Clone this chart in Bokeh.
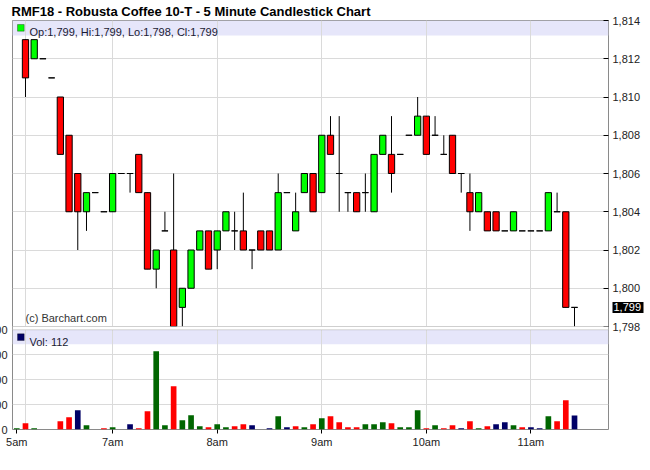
import math
from bokeh.plotting import figure
from bokeh.models import (Range1d, FixedTicker, NumeralTickFormatter, Label, Grid, Title,
                          BoxAnnotation, ColumnDataSource, LinearAxis)
from bokeh.embed import file_html
from bokeh.resources import INLINE

NaN = float("nan")

# ---------------- data (5-minute bars, index -1 .. 63) ----------------
bar_index = list(range(-1, 64))
opens = [NaN, 1813, 1812, 1812, 1811, 1810, 1808, 1806, 1804, 1805, 1804,
         1804, 1806, 1806, 1807, 1805, 1801, 1803, 1802, 1799, 1800,
         1802, 1803, 1802, 1803, 1803, 1803, 1802, 1803, 1803, 1802,
         1805, 1803, 1805, 1806, 1805, 1808, 1806, 1805, 1805, 1805,
         1804, 1807, 1807, 1807, 1808, 1808, 1809, 1808, 1807, 1808,
         1806, 1805, 1804, 1804, 1804, 1803, 1803, 1803, 1803, 1803,
         1803, 1804, 1804, 1799]
highs = [NaN, 1813, 1813, 1812, 1811, 1810, 1808, 1806, 1805, 1805, 1804,
         1806, 1806, 1806, 1807, 1805, 1802, 1804, 1806, 1800, 1802,
         1803, 1803, 1803, 1804, 1804, 1805, 1802, 1803, 1803, 1806,
         1805, 1805, 1806, 1806, 1808, 1809, 1809, 1805, 1805, 1806,
         1807, 1808, 1809, 1807, 1808, 1810, 1809, 1809, 1808, 1808,
         1806, 1806, 1805, 1804, 1804, 1803, 1804, 1803, 1803, 1803,
         1805, 1805, 1804, 1799]
lows = [NaN, 1810, 1812, 1812, 1811, 1807, 1804, 1802, 1803, 1805, 1804,
        1804, 1806, 1805, 1805, 1801, 1800, 1803, 1798, 1798, 1800,
        1802, 1801, 1801, 1803, 1802, 1802, 1801, 1802, 1802, 1802,
        1805, 1803, 1805, 1804, 1805, 1807, 1804, 1804, 1804, 1804,
        1804, 1807, 1805, 1807, 1808, 1808, 1807, 1808, 1807, 1806,
        1805, 1803, 1804, 1803, 1803, 1803, 1803, 1803, 1803, 1803,
        1803, 1804, 1799, 1798]
closes = [NaN, 1811, 1813, 1812, 1811, 1807, 1804, 1804, 1805, 1805, 1804,
          1806, 1806, 1806, 1805, 1801, 1802, 1803, 1798, 1800, 1802,
          1803, 1801, 1803, 1804, 1803, 1802, 1802, 1802, 1802, 1805,
          1805, 1804, 1806, 1804, 1808, 1807, 1806, 1805, 1804, 1805,
          1807, 1808, 1806, 1807, 1808, 1809, 1807, 1808, 1807, 1806,
          1806, 1804, 1805, 1803, 1803, 1803, 1804, 1803, 1803, 1803,
          1805, 1804, 1799, 1799]
volumes = [11, 51, 11, 1, 1, 67, 99, 155, 35, 1, 11,
           19, 1, 43, 11, 147, 627, 35, 347, 75, 115,
           27, 19, 43, 19, 27, 43, 35, 1, 11, 107,
           19, 27, 19, 43, 91, 107, 59, 19, 19, 43,
           43, 59, 51, 19, 19, 155, 11, 35, 11, 35,
           11, 67, 11, 27, 43, 59, 35, 19, 19, 11,
           107, 67, 235, 112]

hour_tick_pos = [-1, 10, 22, 34, 46, 58]
hour_tick_labels = ["5am", "7am", "8am", "9am", "10am", "11am"]
hour_grid_pos = [0, 10, 22, 34, 46, 58]
price_ticks = [1798, 1800, 1802, 1804, 1806, 1808, 1810, 1812, 1814]
volume_ticks = [0, 200, 400, 600, 800]

TITLE = "RMF18 - Robusta Coffee 10-T - 5 Minute Candlestick Chart"
FONT = "Liberation Sans"

# ---------------- derived styling ----------------
UP, DOWN, FLAT = "#00ff00", "#ff0000", "#ffffff"
VUP, VDOWN, VFLAT = "#006600", "#ff0000", "#000066"

body_top, body_bot, body_col = [], [], []
for o, c in zip(opens, closes):
    body_top.append(max(o, c) if not math.isnan(o) else NaN)
    body_bot.append(min(o, c) if not math.isnan(o) else NaN)
    body_col.append(UP if c > o else (DOWN if c < o else FLAT))

vol_col = []
prev = NaN
for o, c in zip(opens, closes):
    if math.isnan(c):
        vol_col.append(VUP)
        continue
    ref = prev if not math.isnan(prev) else o
    vol_col.append(VUP if c > ref else (VDOWN if c < ref else VFLAT))
    prev = c

BW = 0.72
src = ColumnDataSource(dict(
    x=bar_index, o=opens, h=highs, l=lows, c=closes,
    left=[i - BW / 2 for i in bar_index], right=[i + BW / 2 for i in bar_index],
    top=body_top, bottom=body_bot, bcol=body_col, vol=volumes, vcol=vol_col))

# ---------------- geometry of the two stacked panels in one frame ----------------
FW, FH = 596, 409
PRICE_H, GAP_H, VOL_H = 306, 3.3, 99.7
X0, X1 = -1.49, 66.9
P_LO, P_HI = price_ticks[0], price_ticks[-1]
ppu = PRICE_H / (P_HI - P_LO)
y_start = P_HI - FH / ppu
vpu = VOL_H / volume_ticks[-1]
v_end = FH / vpu
xpu = FW / (X1 - X0)

def px_x(px):
    return X0 + px / xpu

def px_p(px):
    return P_HI - px / ppu

def px_v(px):
    return volume_ticks[-1] - px / vpu

GRID = "#dadada"
OUTLINE = "#8a8a8a"
BAND = "#e6e6fa"
TXT = "#222222"
HDR = "#1a1a33"

ttl = Title(text=TITLE, align="left", offset=-1, standoff=0, vertical_align="top",
            text_font=FONT, text_font_size="13px", text_font_style="bold",
            text_color="black")

p = figure(frame_width=FW, frame_height=FH, x_range=Range1d(X0, X1),
           y_range=Range1d(y_start, P_HI), output_backend="svg", toolbar_location=None,
           x_axis_location="below", y_axis_location="right", title=ttl,
           min_border_left=12, min_border_right=34, min_border_top=20, min_border_bottom=20)
p.extra_y_ranges = {"vol": Range1d(0, v_end)}
p.background_fill_color = "white"
p.border_fill_color = "white"
p.outline_line_color = OUTLINE
p.outline_line_width = 1

ax = p.yaxis[0]
ax.ticker = FixedTicker(ticks=price_ticks)
ax.formatter = NumeralTickFormatter(format="0,0")
ax.major_tick_in = 5
ax.major_tick_out = 0
ax.minor_tick_line_color = None
ax.axis_line_color = None
ax.major_tick_line_color = "black"
ax.major_label_standoff = 4
ax.major_label_text_font = FONT
ax.major_label_text_font_size = "11px"
ax.major_label_text_color = TXT

# last-price marker: a second right axis with one tick at the last close; its thick
# inward tick forms the black box and its label is pulled back over the price scale
last = len(bar_index) - 1
mk = LinearAxis(ticker=FixedTicker(ticks=[closes[last]]),
                formatter=NumeralTickFormatter(format="0,0"),
                axis_line_color=None, minor_tick_line_color=None,
                major_tick_in=31, major_tick_out=0, major_tick_line_color="black",
                major_tick_line_width=11, major_label_standoff=-30,
                major_label_text_font=FONT, major_label_text_font_size="11px",
                major_label_text_color="white")
p.add_layout(mk, "right")

xa = p.xaxis[0]
xa.ticker = FixedTicker(ticks=hour_tick_pos)
xa.major_label_overrides = {t: s for t, s in zip(hour_tick_pos, hour_tick_labels)}
xa.major_tick_in = 0
xa.major_tick_out = 4
xa.minor_tick_line_color = None
xa.axis_line_color = None
xa.major_tick_line_color = "black"
xa.major_label_standoff = 2
xa.major_label_text_font = FONT
xa.major_label_text_font_size = "11px"
xa.major_label_text_color = TXT

# volume scale on the left: as in the original it runs off the page edge
vax = LinearAxis(y_range_name="vol", ticker=FixedTicker(ticks=volume_ticks),
                 axis_line_color=None, major_tick_line_color=None,
                 minor_tick_line_color=None, major_tick_in=0, major_tick_out=0,
                 major_label_standoff=5, major_label_text_font=FONT,
                 major_label_text_font_size="11px", major_label_text_color=TXT,
                 axis_label=" ", axis_label_standoff=-36)
p.add_layout(vax, "left")

p.xgrid.ticker = FixedTicker(ticks=hour_grid_pos)
p.ygrid.ticker = FixedTicker(ticks=price_ticks)
vgrid = Grid(dimension=1, ticker=FixedTicker(ticks=volume_ticks), y_range_name="vol")
p.add_layout(vgrid)
for g in (p.xgrid, p.ygrid, vgrid):
    g.grid_line_color = GRID
    g.grid_line_width = 1

p.add_layout(BoxAnnotation(top=P_HI, bottom=px_p(15), fill_color=BAND, fill_alpha=1,
                           line_color=None, level="image"))
p.add_layout(BoxAnnotation(top=volume_ticks[-1], bottom=px_v(14.5), y_range_name="vol",
                           fill_color=BAND, fill_alpha=1, line_color=None, level="image"))

p.segment(x0="x", y0="l", x1="x", y1="h", source=src, line_color="black", line_width=1)
p.quad(left="left", right="right", top="top", bottom="bottom", source=src,
       fill_color="bcol", line_color="black", line_width=1)

p.vbar(x="x", top="vol", width=0.65, source=src, fill_color="vcol", line_color=None,
       y_range_name="vol")

p.add_layout(BoxAnnotation(top=P_LO, bottom=px_p(PRICE_H + GAP_H), fill_color="white",
                           fill_alpha=1, line_color=OUTLINE, line_width=1, level="annotation"))

hdr = "Op:{:,}, Hi:{:,}, Lo:{:,}, Cl:{:,}".format(int(opens[last]), int(highs[last]),
                                                  int(lows[last]), int(closes[last]))
p.add_layout(BoxAnnotation(left=px_x(5), right=px_x(11.7), top=px_p(4), bottom=px_p(10.7),
                           fill_color=UP, fill_alpha=1, line_color="black", line_width=1,
                           level="annotation"))
p.add_layout(Label(x=17, y=FH - 11.5, x_units="screen", y_units="screen", text=hdr,
                   text_font=FONT, text_font_size="11px", text_color=HDR,
                   text_baseline="alphabetic"))
p.add_layout(BoxAnnotation(left=px_x(5), right=px_x(11.7), top=px_v(4), bottom=px_v(10.7),
                           y_range_name="vol", fill_color=VFLAT, fill_alpha=1,
                           line_color="black", line_width=1, level="annotation"))
p.add_layout(Label(x=17, y=VOL_H - 12, x_units="screen", y_units="screen",
                   text="Vol: {}".format(volumes[last]), text_font=FONT,
                   text_font_size="11px", text_color=HDR, text_baseline="alphabetic"))

p.add_layout(Label(x=13, y=VOL_H + GAP_H + 8.3, x_units="screen", y_units="screen",
                   text="(c) Barchart.com", text_font=FONT, text_font_size="11px",
                   text_color="#333333", text_baseline="alphabetic"))

open("out.html", "w").write(file_html(p, INLINE))
